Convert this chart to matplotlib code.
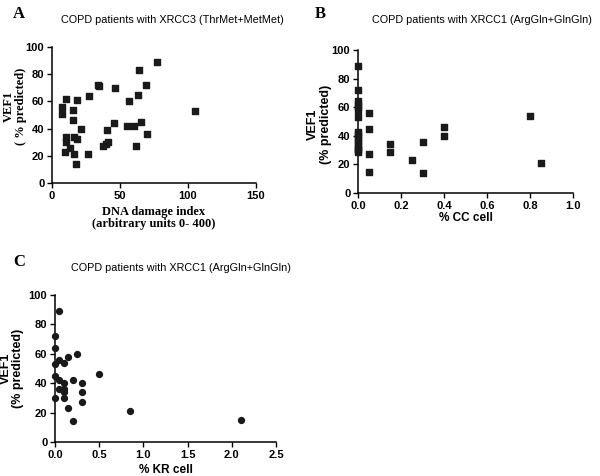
import matplotlib
matplotlib.use("Agg")
import matplotlib.pyplot as plt

# Panel A: XRCC3, DNA damage index vs VEF1
dna_index = [7.3, 7.3, 10.5, 15.4, 15.4, 18.4, 27.4, 33.5, 34.5, 46.5, 56.5, 64.3,
             63.4, 69.0, 77.3, 105.2, 10.5, 10.5, 13.5, 9.5, 16.4, 18.4, 21.3, 16.4,
             17.4, 26.4, 37.4, 39.4, 41.4, 40.4, 45.3, 55.3, 60.4, 65.3, 61.4, 70.2]
vef1_a = [56, 51, 62, 54, 46, 61, 64, 72, 71, 70, 60, 83,
          65, 72, 89, 53, 34, 30, 26, 23, 34, 32, 40, 21,
          14, 21, 27, 29, 30, 39, 44, 42, 42, 45, 27, 36]

# Panel B: XRCC1, % CC cell vs VEF1
cc_cell = [0, 0, 0, 0, 0, 0, 0, 0, 0, 0, 0, 0, 0, 0, 0, 0,
           0.05, 0.05, 0.05, 0.05, 0.15, 0.15, 0.25, 0.3, 0.3, 0.4, 0.4, 0.8, 0.85]
vef1_b = [89, 72, 64, 62, 60, 58, 53, 43, 41, 39, 37, 35, 33, 31, 30, 29,
          56, 45, 27, 15, 34, 29, 23, 36, 14, 46, 40, 54, 21]

# Panel C: XRCC1, % KR cell vs VEF1
kr_cell = [0.05, 0, 0, 0, 0, 0, 0.05, 0.1, 0.15, 0.25, 0.05, 0.05, 0.1, 0.1, 0.1,
           0.1, 0.15, 0.2, 0.2, 0.3, 0.3, 0.3, 0.5, 0.85, 2.1]
vef1_c = [89, 72, 64, 53, 45, 30, 56, 54, 58, 60, 42, 36, 40, 36, 34,
          30, 23, 42, 14, 40, 34, 27, 46, 21, 15]

SANS = "Liberation Sans"
SERIF = "Liberation Serif"
MARK = "#1a1a1a"
W, H = 600, 476

plt.rcParams["font.family"] = SANS

fig = plt.figure(figsize=(6, 4.76), dpi=100)


def style_axes(ax, xlim, xticks, xfmt):
    for side in ("top", "right"):
        ax.spines[side].set_visible(False)
    for side in ("left", "bottom"):
        ax.spines[side].set_linewidth(1.1)
    ax.set_ylim(0, 100)
    ax.set_yticks([0, 20, 40, 60, 80, 100])
    ax.set_xlim(*xlim)
    ax.set_xticks(xticks)
    ax.set_xticklabels([xfmt.format(t) for t in xticks])
    ax.tick_params(direction="out", length=3.5, width=1, pad=2, labelsize=8)
    for lab in ax.get_xticklabels() + ax.get_yticklabels():
        lab.set_fontweight("bold")


# A
ax_a = fig.add_axes([52 / W, 1 - 183 / H, 204 / W, 136 / H])
ax_a.scatter(dna_index, vef1_a, marker="s", s=20, color=MARK, clip_on=False, zorder=3)
style_axes(ax_a, (0, 150), [0, 50, 100, 150], "{:.0f}")
ax_a.set_xlabel("DNA damage index\n(arbitrary units 0- 400)", fontfamily=SERIF,
                fontweight="bold", fontsize=9, labelpad=4, linespacing=1.0)
ax_a.set_ylabel("VEF1\n( % predicted)", fontfamily=SERIF, fontweight="bold",
                fontsize=9, linespacing=1.0)
ax_a.yaxis.set_label_coords((27 - 52) / 204, 0.56)

# B
ax_b = fig.add_axes([358 / W, 1 - 193 / H, 215 / W, 143 / H])
ax_b.scatter(cc_cell, vef1_b, marker="s", s=20, color=MARK, clip_on=False, zorder=3)
style_axes(ax_b, (0, 1.0), [0, 0.2, 0.4, 0.6, 0.8, 1.0], "{:.1f}")
ax_b.set_xlabel("% CC cell", fontweight="bold", fontsize=8.5, labelpad=1)
ax_b.set_ylabel("VEF1\n(% predicted)", fontweight="bold", fontsize=9,
                linespacing=1.1)
ax_b.yaxis.set_label_coords((332 - 358) / 215, 0.48)

# C
ax_c = fig.add_axes([55 / W, 1 - 442 / H, 221 / W, 147 / H])
ax_c.scatter(kr_cell, vef1_c, marker="o", s=18, color=MARK, clip_on=False, zorder=3)
style_axes(ax_c, (0, 2.5), [0, 0.5, 1.0, 1.5, 2.0, 2.5], "{:.1f}")
ax_c.set_xlabel("% KR cell", fontweight="bold", fontsize=8.5, labelpad=3)
ax_c.set_ylabel("VEF1\n(% predicted)", fontweight="bold", fontsize=9,
                linespacing=1.0)
ax_c.yaxis.set_label_coords((24 - 55) / 221, 0.5)

# titles and panel letters
fig.text(172 / W, 1 - 20 / H, "COPD patients with XRCC3 (ThrMet+MetMet)",
         ha="center", va="center", fontsize=7.8)
fig.text(482 / W, 1 - 20 / H, "COPD patients with XRCC1 (ArgGln+GlnGln)",
         ha="center", va="center", fontsize=7.8)
fig.text(181 / W, 1 - 268 / H, "COPD patients with XRCC1 (ArgGln+GlnGln)",
         ha="center", va="center", fontsize=7.8)
for letter, x, y in (("A", 19, 14), ("B", 320, 14), ("C", 19, 262)):
    fig.text(x / W, 1 - y / H, letter, ha="center", va="center",
             fontfamily=SERIF, fontweight="bold", fontsize=12)

fig.savefig("out.png", dpi=100)
